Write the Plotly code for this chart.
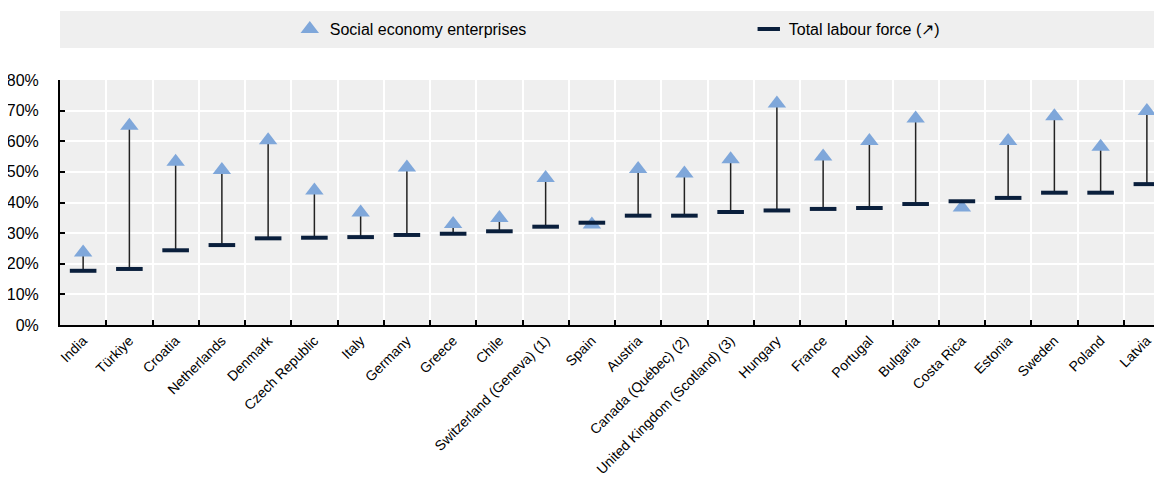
import plotly.graph_objects as go

countries = ["India", "Türkiye", "Croatia", "Netherlands", "Denmark", "Czech Republic",
             "Italy", "Germany", "Greece", "Chile", "Switzerland (Geneva) (1)", "Spain",
             "Austria", "Canada (Québec) (2)", "United Kingdom (Scotland) (3)", "Hungary",
             "France", "Portugal", "Bulgaria", "Costa Rica", "Estonia", "Sweden", "Poland",
             "Latvia"]

social_economy = [23.7, 65.1, 53.3, 50.6, 60.3, 43.9, 36.7, 51.4, 33.0, 34.9, 48.0, 32.8,
                  50.9, 49.5, 54.1, 72.3, 55.0, 60.1, 67.4, 38.4, 60.1, 68.2, 58.2, 69.9]

labour_force = [17.7, 18.3, 24.4, 26.1, 28.3, 28.5, 28.7, 29.4, 29.8, 30.6, 32.1, 33.4,
                35.7, 35.7, 36.9, 37.4, 37.9, 38.2, 39.5, 40.4, 41.5, 43.2, 43.2, 46.0]

y_ticks = [0, 10, 20, 30, 40, 50, 60, 70, 80]

font_family = "Liberation Sans, Arial, sans-serif"

# connectors between the two values
cx, cy = [], []
for c, a, b in zip(countries, labour_force, social_economy):
    cx += [c, c, None]
    cy += [a, b, None]

fig = go.Figure()
fig.add_trace(go.Scatter(x=cx, y=cy, mode="lines", line=dict(color="#222222", width=1.5),
                         showlegend=False, hoverinfo="skip"))
fig.add_trace(go.Scatter(x=countries, y=social_economy, mode="markers",
                         name="Social economy enterprises",
                         marker=dict(symbol="triangle-up", size=16, color="#7FA7DA")))
fig.add_trace(go.Scatter(x=countries, y=labour_force, mode="markers",
                         name="Total labour force (↗)",
                         marker=dict(symbol="line-ew", size=19,
                                     line=dict(color="#0a1f3c", width=4))))

fig.add_shape(type="rect", xref="paper", yref="paper", x0=0, x1=1, y0=1.131, y1=1.282,
              fillcolor="#efefef", line_width=0, layer="below")

fig.update_layout(
    width=1162, height=489,
    margin=dict(l=52, r=0, t=72, b=172, autoexpand=False),
    paper_bgcolor="white",
    plot_bgcolor="#efefef",
    font=dict(family=font_family, size=14, color="black"),
    legend=dict(orientation="h", x=0.207, xanchor="left", y=1.208, yanchor="middle",
                bgcolor="rgba(0,0,0,0)", entrywidth=414, font=dict(size=16)),
    xaxis=dict(type="category", range=[-0.5, 23.5], tickson="boundaries",
               ticks="inside", ticklen=5, tickcolor="black", tickwidth=2, tickangle=-45,
               showline=True, linecolor="black", linewidth=2,
               showgrid=True, gridcolor="white", gridwidth=1.5,
               tickfont=dict(size=14)),
    yaxis=dict(range=[0, 80], tickvals=y_ticks, ticktext=[f"{v}%" for v in y_ticks],
               showline=True, linecolor="black", linewidth=2,
               showgrid=True, gridcolor="white", gridwidth=1.5, zeroline=False,
               ticks="inside", ticklen=5, tickcolor="black", tickwidth=2,
               ticklabelstandoff=16, tickfont=dict(size=16)),
)

fig.write_html("out.html",
               post_script="document.documentElement.style.overflow='hidden';"
                           "document.body.style.overflow='hidden';")
